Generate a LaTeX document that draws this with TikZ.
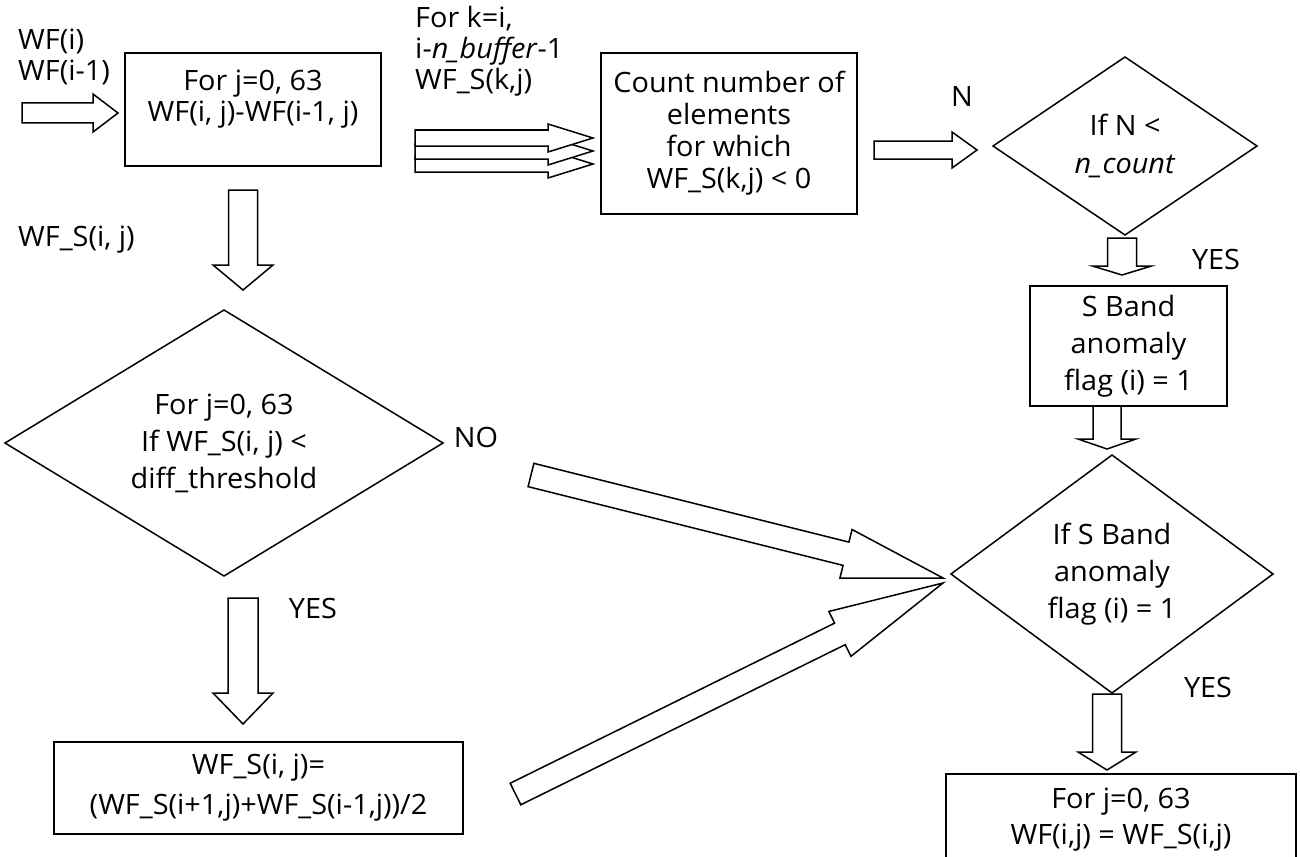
\documentclass[tikz,border=0pt]{standalone}
\usepackage{fontspec}
\setmainfont{Open Sans}[FakeStretch=1.03]
\usetikzlibrary{calc,shapes.geometric}

% outlined block arrow: tail, tip, half shaft, half head, head length
\newcommand{\fatarrow}[5]{%
  \coordinate (hb) at ($(#2)!#5!(#1)$);
  \draw[fat] ($(#1)!#3!90:(#2)$) -- ($(hb)!#3!-90:(#1)$) -- ($(hb)!#4!-90:(#1)$)
    -- (#2) -- ($(hb)!#4!90:(#1)$) -- ($(hb)!#3!90:(#1)$) -- ($(#1)!#3!-90:(#2)$) -- cycle;}

\begin{document}
\begin{tikzpicture}[x=1pt, y=-1pt,
    leading/.style={font=\fontsize{28}{#1}\selectfont},
    box/.style={draw, line width=1.5pt, align=center, inner sep=0pt, outer sep=0pt, leading=31},
    decision/.style={diamond, draw, line width=1.5pt, align=center, inner sep=0pt, outer sep=0pt, leading=37},
    lbl/.style={align=left, inner sep=0pt, leading=31},
    fat/.style={draw, fill=white, line width=1.5pt, line join=miter}
]
\useasboundingbox (0,0) rectangle (1300,856);
\clip (0,0) rectangle (1300,856);

% boxes
\node[box, minimum width=256, minimum height=113, text depth=27pt] (diff) at (253,109.5) {For j=0, 63\\WF(i, j)-WF(i-1, j)};
\node[box, minimum width=256, minimum height=161, leading=32] (count) at (729,133.5) {Count number of\\elements\\for which\\WF\_S(k,j) < 0};
\node[box, minimum width=197, minimum height=120, leading=37] (flag) at (1128.5,346) {S Band\\anomaly\\flag (i) = 1};
\node[box, minimum width=409, minimum height=92, leading=40] (smooth) at (258.5,788) {WF\_S(i, j)=\\(WF\_S(i+1,j)+WF\_S(i-1,j))/2};
\node[box, minimum width=350, minimum height=92, leading=36] (copy) at (1121,820) {For j=0, 63\\WF(i,j) = WF\_S(i,j)};

% decisions
\node[decision, shape aspect=1.65, minimum width=438, minimum height=266] (thresh) at (224,443) {For j=0, 63\\If WF\_S(i, j) <\\diff\_threshold};
\node[decision, shape aspect=1.48, minimum width=264, minimum height=178, leading=38] (ncount) at (1125,146) {If N <\\\textit{n\_count}};
\node[decision, shape aspect=1.35, minimum width=322, minimum height=238] (check) at (1112,574) {If S Band\\anomaly\\flag (i) = 1};

% labels
\node[lbl, anchor=west] (inputs) at (18,57) {WF(i)\\WF(i-1)};
\node[lbl, anchor=west] (window) at (415,51) {For k=i,\\i-\textit{n\_buffer}-1\\WF\_S(k,j)};
\node[lbl, anchor=west] (wfs) at (18,240) {WF\_S(i, j)};
\node[lbl] (nlbl) at (962,97) {N};
\node[lbl] (yes1) at (1216,259) {YES};
\node[lbl] (nolbl) at (476,437) {NO};
\node[lbl] (yes2) at (313,608) {YES};
\node[lbl] (yes3) at (1208,687) {YES};

% arrows
\coordinate (src) at (22,113);
\fatarrow{src}{$(diff.west)+(-7,3.5)$}{10pt}{19pt}{25pt}
\foreach \dy in {30.5,17.5,4.5} {
  \coordinate (wtail) at ($(count.west)+(-186,\dy)$);
  \coordinate (whead) at ($(count.west)+(-8,\dy)$);
  \fatarrow{wtail}{whead}{8pt}{14pt}{45pt}
}
\fatarrow{$(count.east)+(17,16.5)$}{$(ncount.west)+(-16,4)$}{9pt}{18pt}{25pt}
\fatarrow{$(diff.south)+(-10,24)$}{$(thresh.north)+(19,-20)$}{14.5pt}{30pt}{25pt}
\fatarrow{$(thresh.south)+(19,22)$}{$(smooth.north)+(-15.5,-18)$}{15pt}{30pt}{31pt}
\fatarrow{$(ncount.south)+(-3,3)$}{$(flag.north)+(-6.5,-11)$}{14.5pt}{29.5pt}{9pt}
\fatarrow{$(flag.south)+(-21.5,0)$}{$(check.north)+(-5,-6)$}{14pt}{29pt}{10pt}
\fatarrow{$(check.south)+(-5,1)$}{$(copy.north)+(-14,-4)$}{14.5pt}{29pt}{18pt}
\fatarrow{$(thresh.east)+(88,32)$}{$(check.west)+(-8,4)$}{12pt}{25pt}{100pt}
\fatarrow{$(smooth.east)+(52.5,6)$}{$(check.west)+(-8,9)$}{12pt}{25pt}{115pt}
\end{tikzpicture}
\end{document}
